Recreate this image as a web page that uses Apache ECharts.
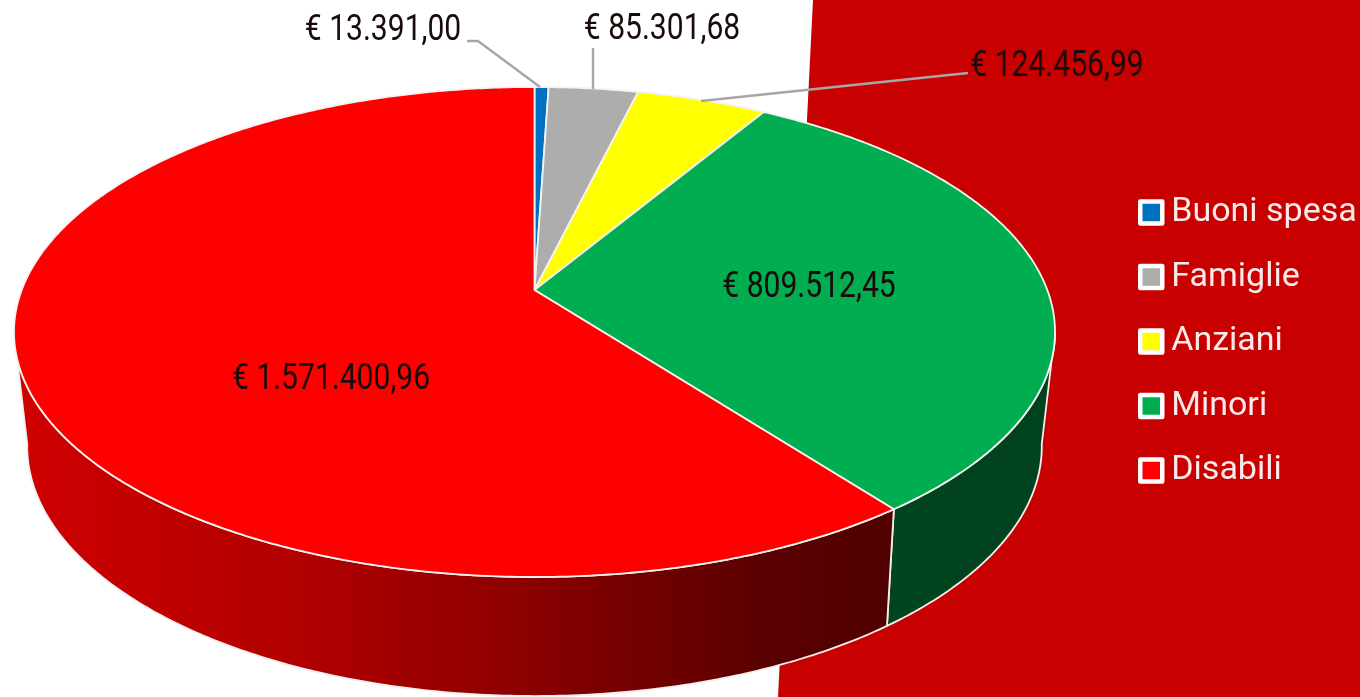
<!DOCTYPE html>
<html><head><meta charset="utf-8">
<style>html,body{margin:0;padding:0;background:#fff;overflow:hidden}#c{width:1360px;height:697px}</style>
<script src="https://cdn.jsdelivr.net/npm/echarts@6/dist/echarts.min.js"></script>
</head><body><div id="c"></div>
<script>
// Data
const categories = ['Buoni spesa','Famiglie','Anziani','Minori','Disabili'];
const amounts = [13391.00, 85301.68, 124456.99, 809512.45, 1571400.96];
const amountLabels = ['€ 13.391,00','€ 85.301,68','€ 124.456,99','€ 809.512,45','€ 1.571.400,96'];

// Styles and layout
const topColors = ['#0070c0','#adadad','#ffff00','#00ad50','#ff0000'];
const wallStops = [
  [{offset:0,color:'#0070c0'},{offset:1,color:'#003a66'}],
  [{offset:0,color:'#777'},{offset:1,color:'#555'}],
  [{offset:0,color:'#888800'},{offset:1,color:'#666600'}],
  [{offset:0,color:'#00451f'},{offset:1,color:'#00421e'}],
  [{offset:0,color:'#d00000'},{offset:0.33,color:'#b00000'},{offset:0.55,color:'#900000'},{offset:0.84,color:'#5c0000'},{offset:1,color:'#500000'}]
];
const labelPos = [[383,31],[662,30],[1057,67],[809,288],[331,380]];
const leaders = [
  [[467,41],[478,41],[540,87]],
  [[593,48],[593,89]],
  [[701,101],[968,73]],
  null,null
];
const topDisc = {cx:534.5, cy:290, a:237.8, b:512.8, k:0.1714};
const baseDisc = {cx:534.5, cy:401.4, a:241.6, b:499, k:0.18};
const FONT = 'Roboto,sans-serif';

const total = amounts.reduce((s,v)=>s+v,0);
// the wall is only seen between the two tangent points of the disc outline
const wallFrom = Math.acos(-topDisc.k), wallTo = 2*Math.PI-wallFrom;
function project(d,t){ // t = clockwise angle from 12 o'clock
  const X=Math.sin(t),Y=-Math.cos(t),w=1-d.k*Y;
  return [d.cx+d.b*X/w,d.cy+d.a*Y/w];
}
function arc(d,t0,t1){
  const n=Math.max(2,Math.ceil((t1-t0)/0.01)),p=[];
  for(let i=0;i<=n;i++)p.push(project(d,t0+(t1-t0)*i/n));
  return p;
}
function makeRender(idx){
  return function(params,api){
    const before=amounts.slice(0,idx).reduce((s,v)=>s+v,0);
    const t0=before/total*2*Math.PI, t1=t0+api.value(0)/total*2*Math.PI;
    const children=[{
      type:'polygon',z2:10,
      shape:{points:[[topDisc.cx,topDisc.cy]].concat(arc(topDisc,t0,t1))},
      style:{fill:topColors[idx],stroke:'#f7f2f2',lineWidth:1.8,lineJoin:'round'}
    }];
    const w0=Math.max(t0,wallFrom), w1=Math.min(t1,wallTo);
    if(w1>w0)children.push({
      type:'polygon',z2:1,
      shape:{points:arc(topDisc,w0,w1).concat(arc(baseDisc,w0,w1).reverse())},
      style:{fill:new echarts.graphic.LinearGradient(0,0,1,0,wallStops[idx]),stroke:'#f4eeee',lineWidth:1.8,lineJoin:'round'}
    });
    if(leaders[idx])children.push({
      type:'polyline',z2:20,shape:{points:leaders[idx]},
      style:{fill:'none',stroke:'#a6a6a6',lineWidth:2.4}
    });
    children.push({
      type:'text',z2:30,x:labelPos[idx][0],y:labelPos[idx][1],scaleX:0.835,
      style:{text:amountLabels[idx],x:0,y:0,align:'center',verticalAlign:'middle',
        fill:'#1a0a0a',font:'36px '+FONT}
    });
    return {type:'group',children};
  };
}
const chart=echarts.init(document.getElementById('c'),null,{renderer:'canvas'});
chart.setOption({
  animation:false,
  backgroundColor:'#ffffff',
  graphic:[{type:'polygon',z:-1,silent:true,shape:{points:[[813,0],[1360,0],[1360,697],[778,697]]},style:{fill:'#c80000'}}],
  legend:{
    orient:'vertical',left:1138,top:193,padding:0,itemGap:25.5,itemWidth:22,itemHeight:22,icon:'rect',
    data:categories,selectedMode:false,
    itemStyle:{borderColor:'#ffffff',borderWidth:4.5,borderJoin:'round'},
    textStyle:{color:'#fbeaea',fontFamily:FONT,fontSize:34,padding:[5,0,0,4],lineHeight:34}
  },
  series:categories.map((name,i)=>({
    type:'custom',name,coordinateSystem:'none',
    itemStyle:{color:topColors[i]},
    renderItem:makeRender(i),
    data:[[amounts[i]]],
    clip:false,silent:true
  }))
});
</script></body></html>
